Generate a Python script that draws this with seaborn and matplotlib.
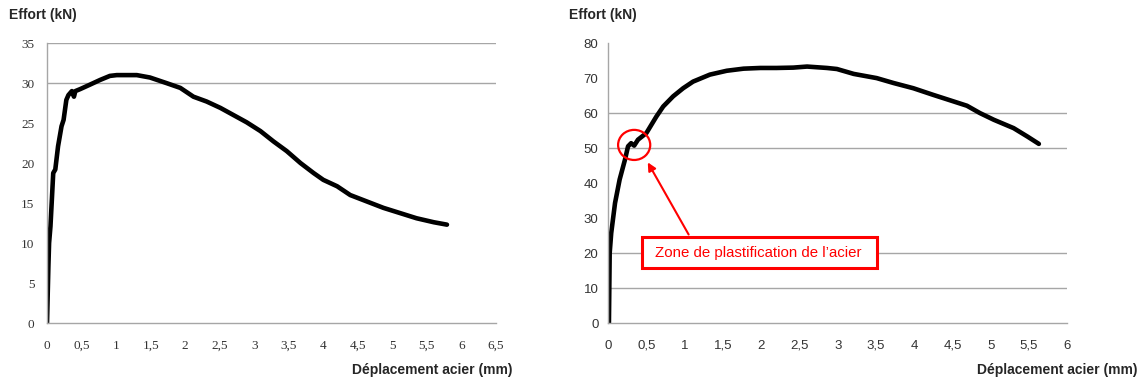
import pandas as pd
import seaborn as sns
import matplotlib.pyplot as plt
from matplotlib.patches import Ellipse, Rectangle

# Left test: force vs steel displacement
left_disp = [0, 0.02, 0.03, 0.05, 0.07, 0.09, 0.12, 0.16, 0.21, 0.24, 0.28, 0.31, 0.36, 0.39,
             0.41, 0.48, 0.62, 0.77, 0.91, 1.01, 1.30, 1.49, 1.73, 1.93, 2.12, 2.31, 2.51,
             2.70, 2.89, 3.09, 3.28, 3.47, 3.67, 3.86, 4.00, 4.20, 4.39, 4.63, 4.87, 5.11,
             5.35, 5.60, 5.79]
left_force = [0, 7.1, 10.0, 12.1, 15.4, 18.75, 19.2, 22.1, 24.6, 25.4, 27.9, 28.5, 29.0, 28.3,
              29.0, 29.25, 29.8, 30.4, 30.9, 31.0, 31.0, 30.7, 30.0, 29.4, 28.3, 27.7, 26.9,
              26.0, 25.1, 24.0, 22.7, 21.5, 20.0, 18.75, 17.9, 17.1, 16.0, 15.2, 14.4, 13.75,
              13.1, 12.6, 12.3]

# Right test
right_disp = [0.01, 0.02, 0.04, 0.09, 0.15, 0.22, 0.26, 0.30, 0.34, 0.39, 0.50, 0.63, 0.72,
              0.85, 0.98, 1.11, 1.33, 1.55, 1.77, 1.99, 2.20, 2.42, 2.60, 2.86, 2.99, 3.21,
              3.51, 3.73, 3.99, 4.25, 4.52, 4.69, 4.86, 5.04, 5.30, 5.48, 5.63]
right_force = [0, 20, 25.7, 34.3, 41, 46.7, 50.5, 51.4, 50.7, 52.4, 54.3, 59, 61.9,
               64.8, 67.1, 69, 71, 72.1, 72.7, 72.9, 72.9, 73.0, 73.3, 72.9, 72.6, 71.2,
               70, 68.6, 67.1, 65.2, 63.3, 62.1, 60, 58.1, 55.7, 53.3, 51.2]

left_xticks = [0, 0.5, 1, 1.5, 2, 2.5, 3, 3.5, 4, 4.5, 5, 5.5, 6, 6.5]
left_yticks = [0, 5, 10, 15, 20, 25, 30, 35]
right_xticks = [0, 0.5, 1, 1.5, 2, 2.5, 3, 3.5, 4, 4.5, 5, 5.5, 6]
right_yticks = [0, 10, 20, 30, 40, 50, 60, 70, 80]
left_grid = [30, 35]
right_grid = [10, 20, 50, 60]

ylabel = "Effort (kN)"
xlabel = "Déplacement acier (mm)"
note = "Zone de plastification de l\u2019acier"

sns.set_style("white")
plt.rcParams['font.family'] = ['Liberation Sans', 'DejaVu Sans']

fig = plt.figure(figsize=(11.41, 3.85), dpi=100)
ax1 = fig.add_axes([0.0412, 0.161, 0.3935, 0.727])
ax2 = fig.add_axes([0.533, 0.161, 0.4023, 0.727])

grid_col = '#a6a6a6'


def fr(v):
    # French decimal comma
    return f"{v:g}".replace('.', ',')


def style(ax, xticks, yticks, grid, xlab_x, tick_font, tick_size, ypad):
    for g in grid:
        ax.axhline(g, color=grid_col, lw=1, zorder=0)
    ax.set_xlim(xticks[0], xticks[-1])
    ax.set_ylim(yticks[0], yticks[-1])
    ax.set_xticks(xticks)
    ax.set_yticks(yticks)
    ax.set_xticklabels([fr(t) for t in xticks], family=tick_font, fontsize=tick_size,
                       color='#333333', va='baseline')
    ax.set_yticklabels([fr(t) for t in yticks], family=tick_font, fontsize=tick_size,
                       color='#333333')
    ax.tick_params(axis='both', direction='out', length=3, width=0.8, color=grid_col)
    ax.tick_params(axis='x', pad=15.5)
    ax.tick_params(axis='y', pad=ypad)
    for s in ['top', 'right']:
        ax.spines[s].set_visible(False)
    for s in ['left', 'bottom']:
        ax.spines[s].set_color(grid_col)
        ax.spines[s].set_linewidth(1)
    ax.set_ylabel(ylabel, rotation=0, fontsize=10, fontweight='bold', ha='left', va='center')
    ax.yaxis.set_label_coords(-0.085, 1.10)
    ax.set_xlabel(xlabel, fontsize=10, fontweight='bold', ha='right', va='center')
    ax.xaxis.set_label_coords(xlab_x, -0.168)


df_left = pd.DataFrame({'disp': left_disp, 'force': left_force})
df_right = pd.DataFrame({'disp': right_disp, 'force': right_force})

sns.lineplot(data=df_left, x='disp', y='force', ax=ax1, color='black', lw=3.3,
             sort=False, estimator=None, solid_capstyle='round', solid_joinstyle='round')
sns.lineplot(data=df_right, x='disp', y='force', ax=ax2, color='black', lw=3.3,
             sort=False, estimator=None, solid_capstyle='round', solid_joinstyle='round')

style(ax1, left_xticks, left_yticks, left_grid, 1.036, 'Liberation Serif', 9.5, 6)
style(ax2, right_xticks, right_yticks, right_grid, 1.153, 'Liberation Sans', 9.5, 4)

# Annotation on the right chart
red = '#ff0000'
ax2.add_patch(Ellipse((0.34, 50.9), 0.42, 8.6, fill=False, edgecolor=red, lw=1.6, zorder=5))
ax2.annotate('', xy=(0.50, 46.6), xytext=(1.07, 24.6),
             arrowprops=dict(arrowstyle='-|>', color=red, lw=1.5, mutation_scale=12))
ax2.add_patch(Rectangle((0.444, 15.7), 3.07, 8.9, facecolor='white', edgecolor=red,
                        lw=2.2, zorder=5))
ax2.text(1.96, 20.0, note, color=red, fontsize=10.8, ha='center', va='center', zorder=6)

fig.savefig('out.png', dpi=100)
